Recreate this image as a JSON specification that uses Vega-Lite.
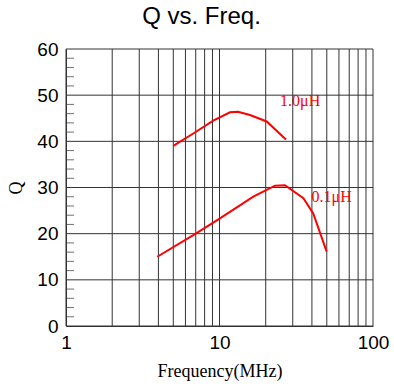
{
  "$schema": "https://vega.github.io/schema/vega-lite/v6.json",
  "width": 307,
  "height": 277,
  "autosize": {"type": "none"},
  "padding": {"left": 66, "top": 49, "right": 21, "bottom": 61},
  "background": "white",
  "title": {"text": "Q vs. Freq.", "font": "Liberation Sans", "fontSize": 24, "fontWeight": "normal", "color": "black", "dx": -18, "offset": 11},
  "config": {"view": {"stroke": null}},
  "datasets": {
    "curves": [
      {"series": "1.0μH", "freq": 5.0, "Q": 39.0},
      {"series": "1.0μH", "freq": 6.75, "Q": 41.7},
      {"series": "1.0μH", "freq": 9.1, "Q": 44.5},
      {"series": "1.0μH", "freq": 11.7, "Q": 46.3},
      {"series": "1.0μH", "freq": 13.2, "Q": 46.4},
      {"series": "1.0μH", "freq": 15.8, "Q": 45.7},
      {"series": "1.0μH", "freq": 20.3, "Q": 44.3},
      {"series": "1.0μH", "freq": 27.1, "Q": 40.4},
      {"series": "0.1μH", "freq": 3.93, "Q": 15.0},
      {"series": "0.1μH", "freq": 6.92, "Q": 19.9},
      {"series": "0.1μH", "freq": 10.07, "Q": 23.3},
      {"series": "0.1μH", "freq": 16.6, "Q": 28.0},
      {"series": "0.1μH", "freq": 23.0, "Q": 30.4},
      {"series": "0.1μH", "freq": 26.7, "Q": 30.5},
      {"series": "0.1μH", "freq": 35.2, "Q": 27.7},
      {"series": "0.1μH", "freq": 40.8, "Q": 24.4},
      {"series": "0.1μH", "freq": 49.9, "Q": 16.1}
    ],
    "labels": [
      {"label": "1.0μH", "freq": 24.8, "Q": 48.8},
      {"label": "0.1μH", "freq": 39.8, "Q": 28.0}
    ],
    "gridx": [
      {"freq": 1}, {"freq": 2}, {"freq": 3}, {"freq": 4}, {"freq": 5}, {"freq": 6}, {"freq": 7}, {"freq": 8}, {"freq": 9}, {"freq": 10},
      {"freq": 20}, {"freq": 30}, {"freq": 40}, {"freq": 50}, {"freq": 60}, {"freq": 70}, {"freq": 80}, {"freq": 90}, {"freq": 100}
    ],
    "gridy": [
      {"Q": 0}, {"Q": 10}, {"Q": 20}, {"Q": 30}, {"Q": 40}, {"Q": 50}, {"Q": 60}
    ],
    "minor": [
      {"Q": 2}, {"Q": 4}, {"Q": 6}, {"Q": 8}, {"Q": 12}, {"Q": 14}, {"Q": 16}, {"Q": 18},
      {"Q": 22}, {"Q": 24}, {"Q": 26}, {"Q": 28}, {"Q": 32}, {"Q": 34}, {"Q": 36}, {"Q": 38},
      {"Q": 42}, {"Q": 44}, {"Q": 46}, {"Q": 48}, {"Q": 52}, {"Q": 54}, {"Q": 56}, {"Q": 58}
    ]
  },
  "layer": [
    {
      "data": {"name": "gridx"},
      "mark": {"type": "rule", "color": "#333", "strokeWidth": 1},
      "encoding": {
        "x": {
          "field": "freq", "type": "quantitative", "scale": {"type": "log", "domain": [1, 100]},
          "axis": {
            "values": [1, 10, 100], "format": "d", "ticks": false, "grid": false,
            "domainColor": "#333", "labelFont": "Liberation Sans", "labelFontSize": 19, "labelColor": "black",
            "labelPadding": 7, "labelFlush": false, "labelOverlap": false,
            "title": "Frequency(MHz)", "titleFont": "Liberation Serif", "titleFontSize": 18, "titleFontWeight": "normal", "titleColor": "black", "titlePadding": 10
          }
        }
      }
    },
    {
      "data": {"name": "gridy"},
      "mark": {"type": "rule", "color": "#333", "strokeWidth": 1},
      "encoding": {
        "y": {
          "field": "Q", "type": "quantitative", "scale": {"domain": [0, 60], "nice": false},
          "axis": {
            "values": [0, 10, 20, 30, 40, 50, 60],
            "grid": false, "ticks": false, "domainColor": "#333",
            "labelFont": "Liberation Sans", "labelFontSize": 19, "labelColor": "black", "labelPadding": 8, "labelFlush": false, "labelOverlap": false,
            "title": "Q", "titleFont": "Liberation Serif", "titleFontSize": 18, "titleFontWeight": "normal", "titleColor": "black", "titlePadding": 11
          }
        }
      }
    },
    {
      "data": {"name": "minor"},
      "mark": {"type": "tick", "orient": "horizontal", "color": "#333", "size": 16, "thickness": 1, "clip": true},
      "encoding": {
        "x": {"datum": 1, "type": "quantitative"},
        "y": {"field": "Q", "type": "quantitative"}
      }
    },
    {
      "data": {"name": "curves"},
      "mark": {"type": "line", "color": "#ff0000", "strokeWidth": 2},
      "encoding": {
        "x": {"field": "freq", "type": "quantitative"},
        "y": {"field": "Q", "type": "quantitative"},
        "detail": {"field": "series"}
      }
    },
    {
      "data": {"name": "labels"},
      "mark": {"type": "text", "color": "#ff0000", "font": "Liberation Serif", "fontSize": 16, "align": "left", "baseline": "middle"},
      "encoding": {
        "x": {"field": "freq", "type": "quantitative"},
        "y": {"field": "Q", "type": "quantitative"},
        "text": {"field": "label"}
      }
    }
  ]
}
